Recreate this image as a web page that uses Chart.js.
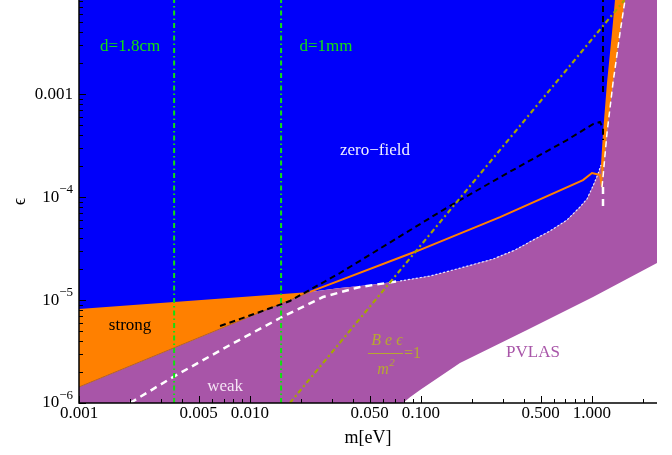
<!DOCTYPE html>
<html>
<head>
<meta charset="utf-8">
<script src="https://cdn.jsdelivr.net/npm/chart.js@4.4.1/dist/chart.umd.min.js"></script>
<style>
  body { margin: 0; background: #fff; }
  canvas { display: block; }
</style>
</head>
<body>
<canvas id="chart" width="672" height="455"></canvas>
<script>
// axis ranges
const mMin = 0.001, mMax = 2.4;
const epsMin = 1e-6, epsMax = 0.0082;

// tick labels
const xTickValues = [0.001, 0.005, 0.01, 0.05, 0.1, 0.5, 1];
const xTickLabels = ["0.001", "0.005", "0.010", "0.050", "0.100", "0.500", "1.000"];
const yTickValues = [1e-6, 1e-5, 1e-4, 1e-3];
const yTickLabels = [["10", "−6"], ["10", "−5"], ["10", "−4"], ["0.001", ""]];

// "strong" region: upper edge (vs zero-field) and lower edge (vs weak)
const strongTopM = [0.001, 0.0224];
const strongTopEps = [8.2e-6, 1.2e-5];
const strongBottomM = [0.001, 0.0224];
const strongBottomEps = [1.43e-6, 1.2e-5];

// PVLAS region, edge against zero-field
const pvlasTopM = [0.0224, 0.0336, 0.0503, 0.0754, 0.113, 0.169, 0.264, 0.355, 0.452, 0.568, 0.714, 0.851, 0.935, 1.014, 1.084, 1.129];
const pvlasTopEps = [1.2e-5, 1.31e-5, 1.40e-5, 1.53e-5, 1.71e-5, 2.04e-5, 2.50e-5, 3.06e-5, 3.82e-5, 4.68e-5, 5.98e-5, 8.0e-5, 9.57e-5, 1.28e-4, 1.67e-4, 2.05e-4];
// PVLAS region, lower edge
const pvlasBottomM = [2.4, 1.014, 0.417, 0.169, 0.0987, 0.0862, 0.0785];
const pvlasBottomEps = [2.29e-5, 1.07e-5, 5.11e-6, 2.45e-6, 1.34e-6, 1.14e-6, 1e-6];

// thin strong strip near 1 eV
const stripLeftM = [1.129, 1.16, 1.224, 1.309, 1.363];
const stripLeftEps = [2.05e-4, 4.18e-4, 1.28e-3, 3.91e-3, 8.2e-3];
const stripRightM = [1.144, 1.16, 1.224, 1.327, 1.458, 1.56];
const stripRightEps = [1.25e-4, 1.56e-4, 4.18e-4, 1.28e-3, 3.91e-3, 8.2e-3];

// curves
const orangeLineM = [0.0224, 0.0948, 0.290, 0.886, 1.0, 1.114, 1.144];
const orangeLineEps = [1.2e-5, 2.99e-5, 6.39e-5, 1.46e-4, 1.71e-4, 1.64e-4, 1.25e-4];
const blackLineM = [0.00668, 0.0114, 0.0171, 0.0336, 0.1345, 0.290, 0.714, 1.014, 1.114, 1.16, 1.16];
const blackLineEps = [5.59e-6, 7.65e-6, 9.78e-6, 1.83e-5, 7.48e-5, 1.56e-4, 3.58e-4, 5.11e-4, 5.35e-4, 4.68e-4, 3.58e-4];
const blackVertM = [1.16, 1.16];
const blackVertEps = [1.05e-3, 8.2e-3];
const weakLineM = [0.00199, 0.00355, 0.00764, 0.015, 0.0267, 0.044, 0.0754];
const weakLineEps = [1e-6, 1.79e-6, 3.66e-6, 6.69e-6, 1.07e-5, 1.34e-5, 1.53e-5];
const weakVertM = [1.16, 1.16];
const weakVertEps = [1.25e-4, 7.8e-5];
const plateM = [0.0036, 0.0152]; // d=1.8cm, d=1mm
const fieldLineM = [0.0171, 1.55];
const fieldLineEps = [1e-6, 8.2e-3];

const pts = (ms, es) => ms.map((m, i) => ({ x: m, y: es[i] }));
const rev = (arr) => arr.slice().reverse();

const bluePoly = [{ x: mMin, y: epsMax }, ...rev(pts(stripRightM, stripRightEps)),
  ...rev(pts(pvlasTopM, pvlasTopEps)), ...rev(pts(strongBottomM, strongBottomEps))];
const purplePoly = [{ x: mMin, y: epsMin }, ...pts(strongBottomM, strongBottomEps),
  ...pts(pvlasTopM, pvlasTopEps), ...pts(stripRightM, stripRightEps), { x: mMax, y: epsMax },
  ...pts(pvlasBottomM, pvlasBottomEps)];
const strongPoly = [...pts(strongTopM, strongTopEps), ...rev(pts(strongBottomM, strongBottomEps))];
const stripPoly = [...pts(stripLeftM, stripLeftEps), ...rev(pts(stripRightM, stripRightEps))];

const BLUE = "#0000fa", PURPLE = "#a855a8", ORANGE = "#ff8000";

const area = (data, color, order) => ({
  data, showLine: true, fill: "shape", backgroundColor: color, borderColor: color,
  borderWidth: 0, pointRadius: 0, order, clip: 0, tension: 0,
});
const curve = (data, color, width, dash, order) => ({
  data, showLine: true, fill: false, borderColor: color, borderWidth: width,
  borderDash: dash, pointRadius: 0, order, clip: 0, tension: 0,
});

const datasets = [
  area(bluePoly, BLUE, 20),
  area(purplePoly, PURPLE, 19),
  area(strongPoly, ORANGE, 18),
  area(stripPoly, ORANGE, 18),
  curve(pts(strongBottomM, strongBottomEps), "#b06020", 0.8, [], 12),
  curve(pts(pvlasTopM, pvlasTopEps).slice(3), "#e8e8ff", 1.2, [2, 2], 11),
  curve(pts(orangeLineM, orangeLineEps), ORANGE, 2, [], 6),
  curve(pts(blackLineM, blackLineEps), "#000", 2, [6, 4], 5),
  curve(pts(blackVertM, blackVertEps), "#000", 2, [6, 4], 5),
  curve(pts(weakLineM, weakLineEps), "#fff", 2.5, [7, 5], 4),
  curve(pts(weakVertM, weakVertEps), "#fff", 2.5, [7, 5], 4),
  curve(pts(stripRightM, stripRightEps), "#fff", 1.5, [6, 4], 4),
  ...plateM.map((m) => curve([{ x: m, y: epsMin }, { x: m, y: epsMax }], "#10e010", 2, [5, 3, 1.5, 3], 3)),
  curve(pts(fieldLineM, fieldLineEps), "#a6a600", 2.2, [5, 3, 2, 3], 2),
];

// in-plot text labels, anchored in data coordinates
const notes = [
  { text: "zero−field", m: 0.0538, eps: 2.86e-4, color: "#f0f0ff" },
  { text: "strong", m: 0.00199, eps: 5.7e-6, color: "#000" },
  { text: "weak", m: 0.00715, eps: 1.43e-6, color: "#f4e4f4" },
  { text: "PVLAS", m: 0.452, eps: 3.06e-6, color: PURPLE },
  { text: "d=1.8cm", m: 0.00199, eps: 2.92e-3, color: "#10e010" },
  { text: "d=1mm", m: 0.0278, eps: 2.92e-3, color: "#10e010" },
];
const fraction = { m: 0.0624, eps: 3.06e-6, color: "#b8a830" };

const FONT = '"Liberation Serif", "Times New Roman", serif';

const decorations = {
  id: "decorations",
  afterDraw(chart) {
    const { ctx, chartArea: a, scales: { x, y } } = chart;
    const seg = (x1, y1, x2, y2) => { ctx.beginPath(); ctx.moveTo(x1, y1); ctx.lineTo(x2, y2); ctx.stroke(); };
    ctx.save();
    ctx.strokeStyle = "#000";
    ctx.lineWidth = 1.5;
    ctx.beginPath();
    ctx.moveTo(a.left, a.top);
    ctx.lineTo(a.left, a.bottom);
    ctx.lineTo(a.right, a.bottom);
    ctx.stroke();

    // ticks point into the plot
    ctx.lineWidth = 1;
    const isMajor = (v, list) => list.some((t) => Math.abs(t / v - 1) < 1e-6);
    for (let d = -3; d <= 0; d++) {
      for (let k = 1; k <= 9; k++) {
        const v = k * Math.pow(10, d);
        if (v > mMax) break;
        const px = Math.round(x.getPixelForValue(v)) + 0.5;
        seg(px, a.bottom, px, a.bottom - (isMajor(v, xTickValues) ? 7 : 4));
      }
    }
    for (let d = -6; d <= -3; d++) {
      for (let k = 1; k <= 9; k++) {
        const v = k * Math.pow(10, d);
        if (v > epsMax) break;
        const py = Math.round(y.getPixelForValue(v)) + 0.5;
        seg(a.left, py, a.left + (isMajor(v, yTickValues) ? 7 : 4), py);
      }
    }

    // tick labels
    ctx.fillStyle = "#000";
    ctx.font = "17px " + FONT;
    ctx.textAlign = "center";
    ctx.textBaseline = "top";
    xTickValues.forEach((v, i) => ctx.fillText(xTickLabels[i], x.getPixelForValue(v), a.bottom + 2));
    ctx.textBaseline = "middle";
    yTickValues.forEach((v, i) => {
      const [base, sup] = yTickLabels[i];
      const py = y.getPixelForValue(v);
      let right = a.left - 6;
      if (sup) {
        ctx.font = "13px " + FONT;
        const w = ctx.measureText(sup).width;
        ctx.textAlign = "left";
        ctx.fillText(sup, right - w, py - 7);
        right -= w;
      }
      ctx.font = "17px " + FONT;
      ctx.textAlign = "right";
      ctx.fillText(base, right, py);
    });

    // region labels
    ctx.textAlign = "center";
    notes.forEach((n) => {
      ctx.fillStyle = n.color;
      ctx.fillText(n.text, x.getPixelForValue(n.m), y.getPixelForValue(n.eps));
    });

    // B e eps / m^2 = 1
    const fx = x.getPixelForValue(fraction.m), fy = y.getPixelForValue(fraction.eps);
    ctx.fillStyle = fraction.color;
    ctx.strokeStyle = fraction.color;
    ctx.font = "italic 16px " + FONT;
    ctx.fillText("B e ϵ", fx + 1, fy - 12);
    ctx.fillText("m", fx - 3, fy + 17);
    ctx.font = "italic 11px " + FONT;
    ctx.fillText("2", fx + 6, fy + 10);
    ctx.lineWidth = 1;
    seg(fx - 18, fy + 0.5, fx + 17, fy + 0.5);
    ctx.font = "16px " + FONT;
    ctx.textAlign = "left";
    ctx.fillText("=1", fx + 18, fy + 1);
    ctx.restore();
  },
};

new Chart(document.getElementById("chart"), {
  type: "scatter",
  data: { datasets },
  options: {
    responsive: false,
    devicePixelRatio: 1,
    animation: false,
    events: [],
    layout: { padding: { left: 0, right: 15, top: 0, bottom: 0 } },
    plugins: { legend: { display: false }, tooltip: { enabled: false } },
    scales: {
      x: {
        type: "logarithmic",
        min: mMin,
        max: mMax,
        ticks: { display: false },
        grid: { display: false },
        border: { display: false },
        title: { display: true, text: "m[eV]", color: "#000", font: { family: FONT, size: 18 }, padding: { top: 0, bottom: 6 } },
        afterFit(scale) { scale.height = 52; },
      },
      y: {
        type: "logarithmic",
        min: epsMin,
        max: epsMax,
        ticks: { display: false },
        grid: { display: false },
        border: { display: false },
        title: { display: true, text: "ϵ", color: "#000", font: { family: FONT, size: 18 }, padding: { top: 9, bottom: 0 } },
        afterFit(scale) { scale.width = 79; },
      },
    },
  },
  plugins: [decorations],
});
</script>
</body>
</html>
